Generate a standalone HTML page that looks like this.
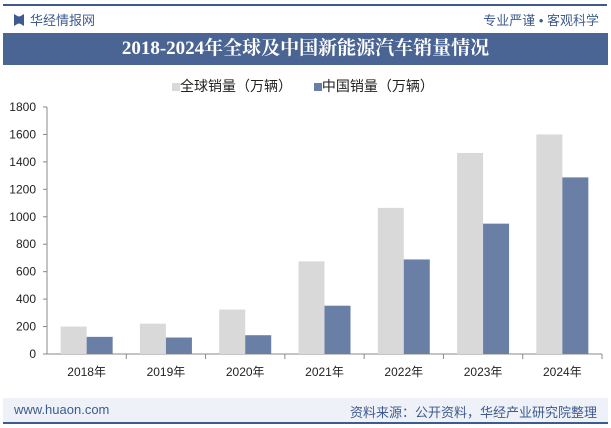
<!DOCTYPE html>
<html><head><meta charset="utf-8"><style>
body{margin:0;width:611px;height:428px;overflow:hidden;background:#fff;font-family:"Liberation Sans","Noto Sans CJK SC",sans-serif;position:relative}
.abs{position:absolute}
</style></head><body>
<div class="abs" style="left:3px;top:4px;width:604px;height:2px;background:#3e5a8f"></div>
<div class="abs" style="left:14px;top:10px;font-size:13px;color:#3e5a8f"><span style="display:inline-block;width:10px;height:12px;background:#3e5a8f;clip-path:polygon(0 0,40% 20%,60% 20%,100% 0,100% 100%,60% 80%,40% 80%,0 100%);vertical-align:-1px;margin-right:6px"></span>华经情报网</div>
<div class="abs" style="right:12px;top:10px;font-size:13px;color:#3e5a8f">专业严谨 • 客观科学</div>
<div class="abs" style="left:3px;top:33px;width:605px;height:32px;background:#4a6494;color:#fff;font:bold 19px 'Liberation Serif','Noto Serif CJK SC',serif;text-align:center;line-height:32px">2018-2024年全球及中国新能源汽车销量情况</div>
<div class="abs" style="left:172px;top:76px;font-size:14px;color:#222">
<span><span style="display:inline-block;width:8px;height:8px;background:#d9d9d9"></span>全球销量（万辆）</span>
<span style="margin-left:18px"><span style="display:inline-block;width:8px;height:8px;background:#6a7fa6"></span>中国销量（万辆）</span></div>
<svg class="abs" style="left:0;top:0" width="611" height="428" id="chart"></svg>
<div class="abs" style="left:3px;top:398px;width:605px;height:24px;background:#eef1f7"></div>
<div class="abs" style="left:3px;top:422px;width:605px;height:2px;background:#3e5a8f"></div>
<div class="abs" style="left:14px;top:402px;font-size:13px;color:#3e5a8f">www.huaon.com</div>
<div class="abs" style="right:14px;top:402px;font-size:13px;color:#3e5a8f">资料来源：公开资料，华经产业研究院整理</div>
<script>
const categories=["2018年","2019年","2020年","2021年","2022年","2023年","2024年"];
const globalSales=[200,221,324,675,1065,1465,1600];
const chinaSales=[125,120,137,352,689,950,1287];
const yTicks=[0,200,400,600,800,1000,1200,1400,1600,1800];
const svg=document.getElementById('chart');const NS="http://www.w3.org/2000/svg";
const x0=47,x1=602,y0=354,y1=107,ymax=1800;
const bw=(x1-x0)/categories.length;
const y=v=>y0-(v/ymax)*(y0-y1);
function el(t,a,txt){const e=document.createElementNS(NS,t);for(const k in a)e.setAttribute(k,a[k]);if(txt!=null)e.textContent=txt;svg.appendChild(e);return e;}
yTicks.forEach(t=>{const e=el('text',{x:36,y:y(t)+4,'text-anchor':'end','font-size':12,fill:'#222'},t);


el('line',{x1:x0-4,x2:x0,y1:y(t),y2:y(t),stroke:'#888'});});
el('line',{x1:x0,x2:x0,y1:y1,y2:y0,stroke:'#888'});
el('line',{x1:x0,x2:x1,y1:y0,y2:y0,stroke:'#888'});
categories.forEach((c,i)=>{const cx=x0+bw*(i+0.5);
el('line',{x1:x0+bw*(i+1),x2:x0+bw*(i+1),y1:y0,y2:y0+5,stroke:'#888'});
const g=el('rect',{x:cx-26,y:y(globalSales[i]),width:26,height:y0-y(globalSales[i]),fill:'#d9d9d9'});


const h=el('rect',{x:cx,y:y(chinaSales[i]),width:26,height:y0-y(chinaSales[i]),fill:'#6a7fa6'});


const t=el('text',{x:cx,y:y0+22,'text-anchor':'middle','font-size':12,fill:'#222'},c);

});
</script>
</body></html>
